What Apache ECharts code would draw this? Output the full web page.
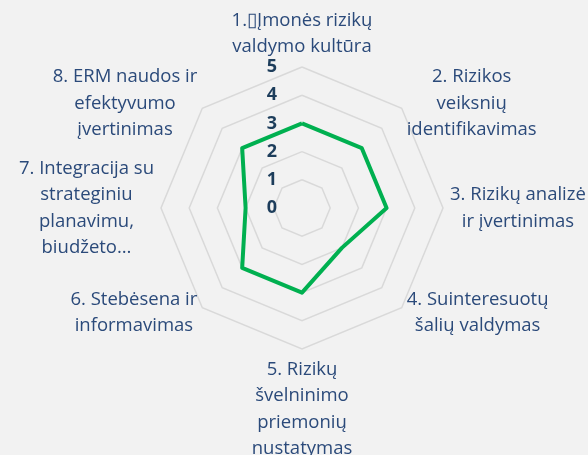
<!DOCTYPE html>
<html><head><meta charset="utf-8">
<script src="https://cdn.jsdelivr.net/npm/echarts@6/dist/echarts.min.js"></script>
<style>html,body{margin:0;padding:0;background:#f2f2f2;}#c{width:588px;height:455px;}</style>
</head><body><div id="c"></div>
<script>
const categories = [
  '1.\u25AFĮmonės rizikų\nvaldymo kultūra',
  '2. Rizikos\nveiksnių\nidentifikavimas',
  '3. Rizikų analizė\nir įvertinimas',
  '4. Suinteresuotų\nšalių valdymas',
  '5. Rizikų\nšvelninimo\npriemonių\nnustatymas',
  '6. Stebėsena ir\ninformavimas',
  '7. Integracija su\nstrateginiu\nplanavimu,\nbiudžeto…',
  '8. ERM naudos ir\nefektyvumo\nįvertinimas'
];
const values = [3, 3, 3, 2, 3, 3, 2, 3];
const tickLabels = ['0', '1', '2', '3', '4', '5'];
const axisMin = 0, axisMax = 5;

// ECharts radar runs counter-clockwise; Excel runs clockwise from top
const order = [0, 7, 6, 5, 4, 3, 2, 1];
const txt = '#2b4a7a';
const tickTxt = '#1d3d5b';
const chart = echarts.init(document.getElementById('c'));
chart.setOption({
  backgroundColor: '#f2f2f2',
  animation: false,
  radar: {
    center: [302, 208],
    radius: 141,
    startAngle: 90,
    splitNumber: 5,
    shape: 'polygon',
    axisNameGap: 7,
    indicator: order.map(i => ({ name: categories[i], min: axisMin, max: axisMax })),
    axisName: {
      color: txt,
      fontFamily: 'Open Sans',
      fontSize: 18.5,
      lineHeight: 26.5,
      formatter: function (n) {
        return n.split('\n').map(l => '{c|' + l + '}').join('\n');
      },
      rich: { c: { align: 'center', color: txt, fontFamily: 'Open Sans', fontSize: 18.5, lineHeight: 26.5 } }
    },
    axisLine: { show: false },
    axisTick: { show: false },
    axisLabel: { show: false },
    splitArea: { show: false },
    splitLine: { lineStyle: { color: '#d9d9d9', width: 1.5 } }
  },
  polar: { center: [302, 208], radius: 141 },
  angleAxis: { show: false, startAngle: 90, min: 0, max: 360 },
  radiusAxis: {
    type: 'value', min: axisMin, max: axisMax, interval: 1,
    axisLine: { show: false }, axisTick: { show: false }, splitLine: { show: false },
    axisLabel: {
      color: tickTxt, fontFamily: 'Open Sans', fontWeight: 'bold', fontSize: 18, margin: 25,
      formatter: v => tickLabels[Math.round(v)]
    }
  },
  series: [{
    type: 'radar',
    symbol: 'none',
    lineStyle: { color: '#00b050', width: 4 },
    itemStyle: { color: '#00b050' },
    data: [{ value: order.map(i => values[i]) }]
  }]
});
</script></body></html>
